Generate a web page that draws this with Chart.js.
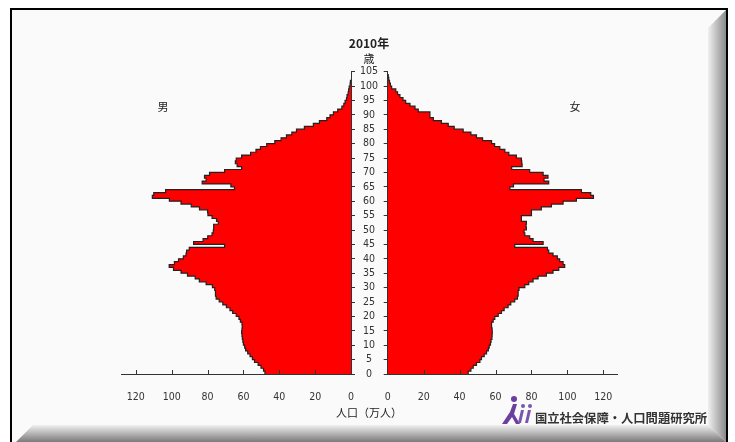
<!DOCTYPE html>
<html>
<head>
<meta charset="utf-8">
<script src="https://cdn.jsdelivr.net/npm/chart.js@4.4.1/dist/chart.umd.min.js"></script>
<style>
  body { margin: 0; width: 735px; height: 442px; overflow: hidden; position: relative; background: #fff;
         font-family: "Noto Sans CJK JP", sans-serif; }
  canvas, svg { position: absolute; left: 0; top: 0; }
  .t { position: absolute; transform: translate(-50%, -50%); white-space: nowrap; color: #222; font-size: 11px; }
</style>
</head>
<body>
<svg width="735" height="442">
  <defs>
    <linearGradient id="gr" x1="0" x2="1" y1="0" y2="0">
      <stop offset="0" stop-color="#f0f0f0"/><stop offset="1" stop-color="#8a8a8a"/>
    </linearGradient>
    <linearGradient id="gb" x1="0" x2="0" y1="0" y2="1">
      <stop offset="0" stop-color="#f0f0f0"/><stop offset="1" stop-color="#7a7a7a"/>
    </linearGradient>
  </defs>
  <rect x="10" y="8" width="718" height="434" fill="#fafafa"/>
  <polygon points="33,425 708,425 726,442 16,442" fill="url(#gb)"/>
  <polygon points="708,28 726,10 726,442 708,425" fill="url(#gr)"/>
  <line x1="11" y1="8" x2="11" y2="442" stroke="#000" stroke-width="2"/>
  <line x1="10" y1="9" x2="728" y2="9" stroke="#000" stroke-width="2"/>
  <line x1="727" y1="8" x2="727" y2="442" stroke="#000" stroke-width="2"/>
</svg>

<canvas id="male" width="735" height="442"></canvas>
<canvas id="female" width="735" height="442"></canvas>

<div class="t" style="left:369px;top:42px;font-weight:bold;font-size:12px">2010年</div>
<div class="t" style="left:369px;top:58px">歳</div>
<div class="t" style="left:163px;top:106px">男</div>
<div class="t" style="left:575px;top:106px">女</div>
<div class="t" style="left:369px;top:412px">人口（万人）</div>

<svg width="36" height="32" style="left:500px;top:395px">
  <circle cx="14" cy="4" r="3" fill="#6a3f9e"/>
  <path d="M2 29 L10 17 L13 9 L17 9 L14 19 L20 29 L16 29 L12 22 L7 29 Z" fill="#6a3f9e"/>
  <circle cx="23" cy="11" r="2" fill="#7a55b0"/>
  <path d="M21 15 L24 15 L21 28 L18 28 Z" fill="#7a55b0"/>
  <circle cx="30" cy="11" r="2" fill="#7a55b0"/>
  <path d="M28 15 L31 15 L28 28 L25 28 Z" fill="#7a55b0"/>
</svg>
<div class="t" style="left:621px;top:418px;font-size:12.3px;font-weight:bold;color:#333">国立社会保障・人口問題研究所</div>

<script>
// 年齢別人口（万人）2010年、0歳から
const maleValues = [
  48.0, 48.8, 50.2, 51.8, 53.8, 55.0, 56.3, 57.6, 58.8, 59.3,
  60.0, 60.3, 60.6, 60.8, 61.0, 60.8, 60.6, 60.8, 61.7, 62.5,
  64.0, 66.0, 67.5, 69.5, 71.5, 73.5, 75.2, 75.6, 75.6, 76.0,
  77.3, 80.8, 84.6, 86.9, 91.2, 94.8, 99.0, 101.4, 98.5, 96.2,
  93.5, 92.0, 91.7, 90.2, 70.5, 87.8, 82.5, 79.9, 77.5, 76.8,
  76.6, 76.6, 74.0, 75.0, 77.5, 79.8, 80.0, 84.5, 89.1, 94.8,
  101.3, 110.8, 110.0, 103.4, 65.0, 67.0, 83.0, 80.8, 81.7, 78.9,
  70.5, 61.0, 63.5, 64.5, 64.0, 61.0, 56.0, 53.0, 50.5, 47.0,
  42.5, 39.0, 36.0, 33.0, 30.4, 26.0, 21.0, 17.6, 13.5, 11.7,
  9.8, 7.4, 5.1, 4.0, 3.3, 2.5, 2.2, 1.6, 1.3, 1.0,
  0.5, 0.3
];
const femaleValues = [
  44.8, 46.3, 47.6, 49.4, 51.3, 52.2, 53.7, 55.0, 56.0, 56.5,
  57.2, 57.5, 58.0, 58.1, 58.2, 58.1, 57.8, 57.8, 58.7, 59.6,
  61.5, 63.3, 64.8, 67.0, 68.5, 70.7, 72.2, 72.6, 72.6, 73.1,
  76.3, 78.5, 80.9, 83.7, 88.3, 92.0, 95.2, 98.5, 97.6, 95.7,
  94.4, 92.0, 89.6, 88.9, 70.7, 86.5, 80.9, 79.0, 76.3, 75.9,
  77.2, 77.0, 77.2, 74.4, 74.4, 80.0, 80.0, 85.5, 91.1, 97.6,
  105.0, 114.5, 113.0, 107.8, 68.0, 70.0, 89.6, 87.0, 89.2, 86.5,
  79.0, 69.0, 74.8, 74.6, 74.4, 71.6, 67.4, 65.2, 62.4, 59.5,
  57.8, 52.8, 49.4, 46.3, 42.0, 37.0, 33.7, 29.9, 25.4, 23.5,
  23.5, 17.0, 15.2, 12.4, 10.0, 8.5, 6.8, 5.5, 4.5, 2.2,
  1.5, 1.0, 0.6, 0.3
];
const popTicks = [0, 20, 40, 60, 80, 100, 120];
const ageMax = 105;
const popMax = 128;

const tickFont = { family: "'Liberation Sans Narrow', 'DejaVu Sans Condensed', sans-serif", size: 10.5 };

// x軸の内向き目盛り
const innerTicks = {
  id: 'innerTicks',
  afterDraw(chart) {
    const sx = chart.scales.x, ctx = chart.ctx, b = chart.chartArea.bottom;
    ctx.save();
    ctx.strokeStyle = '#333';
    ctx.lineWidth = 1;
    popTicks.forEach(v => {
      if (v === 0) return;
      const px = Math.round(sx.getPixelForValue(v)) + 0.5;
      ctx.beginPath();
      ctx.moveTo(px, b);
      ctx.lineTo(px, b - 4);
      ctx.stroke();
    });
    ctx.restore();
  }
};

function makeSide(id, values, isLeft) {
  const pts = values.map((v, age) => ({ x: v, y: age }));
  pts.push({ x: 0, y: values.length }); // 上端を閉じる

  return new Chart(document.getElementById(id), {
    type: 'line',
    plugins: [innerTicks],
    data: {
      datasets: [{
        data: pts,
        stepped: 'after',
        fill: 'origin',
        backgroundColor: '#ff0000',
        borderColor: '#222',
        borderWidth: 1.2,
        pointRadius: 0,
      }],
    },
    options: {
      indexAxis: 'y',
      responsive: false,
      animation: false,
      layout: {
        padding: isLeft
          ? { left: 121.5, right: 380, top: 71.6, bottom: 38 }
          : { left: 347.7, right: 117.3, top: 71.6, bottom: 38 },
      },
      plugins: { legend: { display: false }, tooltip: { enabled: false } },
      scales: {
        x: {
          type: 'linear',
          min: 0,
          max: popMax,
          reverse: isLeft,
          afterBuildTicks: (scale) => { scale.ticks = popTicks.map(v => ({ value: v })); },
          afterFit: (scale) => { scale.height = 30; },
          grid: { display: false },
          border: { display: true, color: '#333', width: 1 },
          ticks: { color: '#333', font: tickFont, padding: 8.7, maxRotation: 0, autoSkip: false },
        },
        y: {
          type: 'linear',
          position: isLeft ? 'right' : 'left',
          min: 0,
          max: ageMax,
          afterFit: (scale) => { scale.width = isLeft ? 4 : 40; },
          grid: { display: true, drawOnChartArea: false, drawTicks: true, tickLength: 4, color: '#333' },
          border: { display: true, color: '#333', width: 1 },
          ticks: {
            display: !isLeft,
            stepSize: 5,
            autoSkip: false,
            color: '#333',
            font: tickFont,
            padding: 5.7,
            crossAlign: 'center',
          },
        },
      },
    },
  });
}

makeSide('male', maleValues, true);
makeSide('female', femaleValues, false);
</script>
</body>
</html>
